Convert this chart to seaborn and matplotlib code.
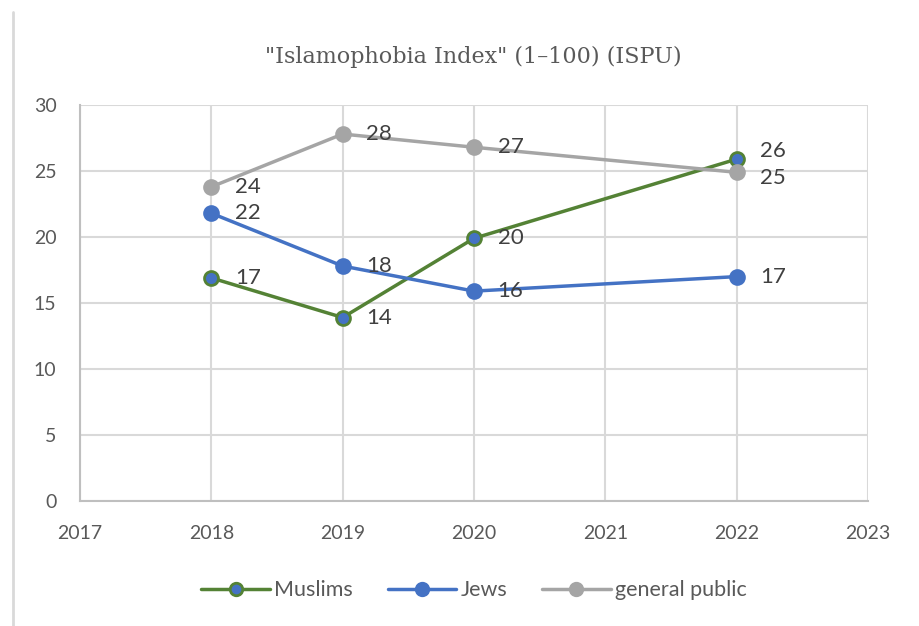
import pandas as pd
import seaborn as sns
import matplotlib.pyplot as plt
from matplotlib.lines import Line2D

# Data
years = [2018, 2019, 2020, 2022]
muslims = [16.9, 13.9, 19.9, 25.9]
jews = [21.8, 17.8, 15.9, 17.0]
general_public = [23.8, 27.8, 26.8, 24.9]
series_names = ["Muslims", "Jews", "general public"]

green = "#548235"
blue = "#4472C4"
gray = "#A5A5A5"
text_col = "#595959"

sns.set_style("white")
plt.rcParams['font.family'] = ['Lato', 'DejaVu Sans']

fig = plt.figure(figsize=(9.2, 6.26), dpi=100)
ax = fig.add_axes([80 / 920, 1 - 501 / 626, 788 / 920, 396 / 626])

styles = {
    "Muslims": dict(color=green, markerfacecolor=blue, markeredgecolor=green),
    "Jews": dict(color=blue, markerfacecolor=blue, markeredgecolor=blue),
    "general public": dict(color=gray, markerfacecolor=gray, markeredgecolor=gray),
}
values = {"Muslims": muslims, "Jews": jews, "general public": general_public}

# label nudges (in data units) where labels would collide
nudge = {("Muslims", 2022): 0.6, ("general public", 2022): -0.4}

for name in series_names:
    df = pd.DataFrame({"year": years, "value": values[name]})
    sns.lineplot(data=df, x="year", y="value", ax=ax, marker="o", markersize=10,
                 markeredgewidth=2, linewidth=2.5, label=name, zorder=3, **styles[name])
    for x, y in zip(years, values[name]):
        dy = nudge.get((name, x), 0)
        ax.text(x + 0.18, y + dy, f"{round(y):.0f}", fontsize=16, color="#404040",
                va="center", ha="left", zorder=4)

ax.set_xlim(2017, 2023)
ax.set_ylim(0, 30)
ax.set_xticks(range(2017, 2024))
ax.set_yticks(range(0, 31, 5))
ax.grid(True, color="#D9D9D9", linewidth=1.5)
ax.set_axisbelow(True)
for s in ["top", "right"]:
    ax.spines[s].set_visible(False)
for s in ["left", "bottom"]:
    ax.spines[s].set_color("#BFBFBF")
    ax.spines[s].set_linewidth(1.5)
ax.tick_params(axis="both", labelsize=14, colors=text_col, length=0)
ax.tick_params(axis="y", pad=17)
ax.tick_params(axis="x", pad=17)
ax.set_xlabel("")
ax.set_ylabel("")

fig.text(0.515, 1 - 57 / 626, '"Islamophobia Index" (1\u2013100) (ISPU)',
         ha="center", va="center", fontsize=16, color=text_col,
         family=["DejaVu Serif"])

ax.legend(loc="center", bbox_to_anchor=(0.5, -0.225), ncol=3, frameon=False,
          fontsize=15.5, labelcolor=text_col, handlelength=3.2, columnspacing=1.6,
          handletextpad=0.2, markerscale=0.9)

fig.add_artist(Line2D([13 / 920, 13 / 920], [0, 1 - 12 / 626], color="#D9D9D9",
                      linewidth=2, transform=fig.transFigure))

fig.savefig("out.png", dpi=100)
